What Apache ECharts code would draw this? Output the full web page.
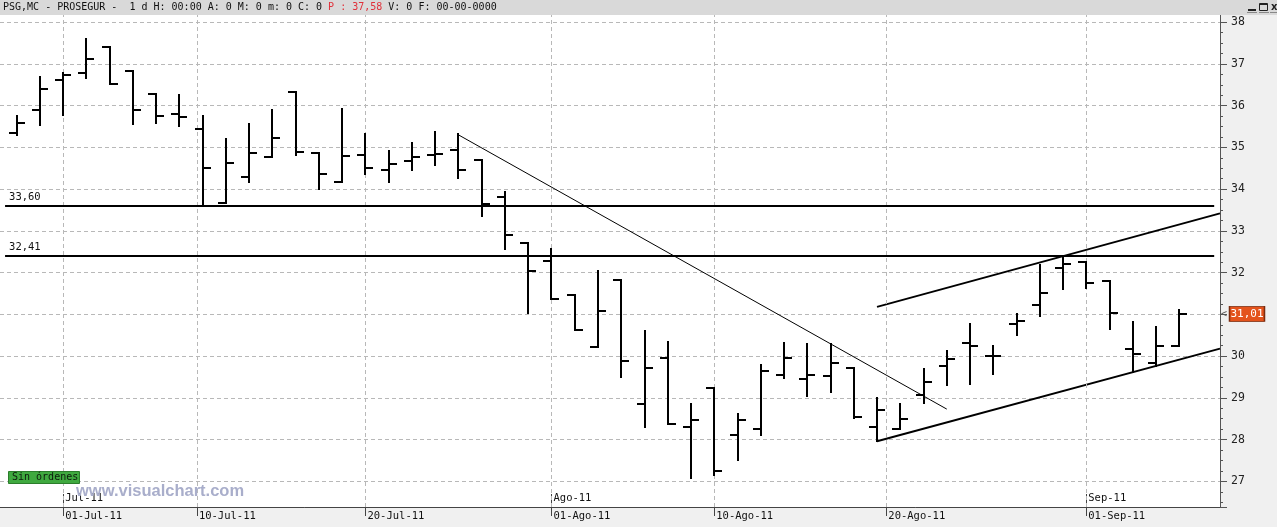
<!DOCTYPE html>
<html><head><meta charset="utf-8">
<script src="https://cdn.jsdelivr.net/npm/echarts@6/dist/echarts.min.js"></script>
<style>html,body{margin:0;padding:0;background:#f0f0f0;overflow:hidden}#c{width:1277px;height:527px}</style>
</head><body><div id="c"></div>
<script>
// ---- data ----
const dates = ['29-Jun-11','30-Jun-11','01-Jul-11','04-Jul-11','05-Jul-11','06-Jul-11','07-Jul-11','08-Jul-11','11-Jul-11','12-Jul-11','13-Jul-11','14-Jul-11','15-Jul-11','18-Jul-11','19-Jul-11','20-Jul-11','21-Jul-11','22-Jul-11','25-Jul-11','26-Jul-11','27-Jul-11','28-Jul-11','29-Jul-11','01-Ago-11','02-Ago-11','03-Ago-11','04-Ago-11','05-Ago-11','08-Ago-11','09-Ago-11','10-Ago-11','11-Ago-11','12-Ago-11','15-Ago-11','16-Ago-11','17-Ago-11','18-Ago-11','19-Ago-11','22-Ago-11','23-Ago-11','24-Ago-11','25-Ago-11','26-Ago-11','29-Ago-11','30-Ago-11','31-Ago-11','01-Sep-11','02-Sep-11','05-Sep-11','06-Sep-11','07-Sep-11'];
const opens  = [35.35,35.90,36.62,36.79,37.40,36.84,36.27,35.81,35.44,33.68,34.30,34.77,36.32,34.86,34.18,34.82,34.46,34.68,34.81,34.94,34.70,33.80,32.72,32.29,31.47,30.22,31.83,28.86,29.96,28.31,29.23,28.12,28.25,29.55,29.46,29.53,29.72,28.29,28.25,29.07,29.77,30.32,30.01,30.77,31.22,32.10,32.26,31.81,30.16,29.83,30.25];
const highs  = [35.75,36.68,36.79,37.60,37.40,36.84,36.27,36.25,35.75,35.19,35.55,35.89,36.32,34.86,35.91,35.31,34.91,35.11,35.36,35.31,34.70,33.92,32.72,32.56,31.47,32.03,31.83,30.60,30.33,28.85,29.23,28.61,29.78,30.31,30.28,30.28,29.72,29.00,28.85,29.68,30.12,30.76,30.24,31.00,32.18,32.40,32.26,31.81,30.81,30.69,31.11];
const lows   = [35.29,35.54,35.78,36.67,36.53,35.57,35.59,35.52,33.60,33.66,34.18,34.77,34.82,34.01,34.18,34.36,34.18,34.45,34.59,34.27,33.36,32.56,31.03,31.37,30.63,30.22,29.49,28.29,28.38,27.09,27.14,27.50,28.10,29.47,29.04,29.15,28.51,27.96,28.25,28.87,29.30,29.33,29.56,30.50,30.95,31.60,31.62,30.64,29.63,29.76,30.25];
const closes = [35.59,36.40,36.74,37.12,36.53,35.90,35.75,35.73,34.51,34.63,34.87,35.23,34.89,34.36,34.79,34.51,34.61,34.77,34.83,34.46,33.64,32.90,32.04,31.37,30.63,31.09,29.89,29.72,28.38,28.47,27.25,28.47,29.64,29.96,29.55,29.84,28.54,28.72,28.50,29.39,29.92,30.25,30.01,30.85,31.50,32.21,31.76,31.04,30.05,30.25,31.01];

// date ticks (bar-index positions) and labels
const dateTickPos    = [2, 7.75, 15, 23, 30, 37.4, 46];
const dateTickLabels = ['01-Jul-11','10-Jul-11','20-Jul-11','01-Ago-11','10-Ago-11','20-Ago-11','01-Sep-11'];
const monthTickPos    = [2, 23, 46];
const monthTickLabels = ['Jul-11','Ago-11','Sep-11'];

// drawn support / trend lines (bar index, price)
const levels      = [33.60, 32.41];
const levelSpan   = [-0.5, 51.5];
const trendDown   = [[19, 35.30], [40, 28.73]];
const channelTop  = [[37, 31.18], [51.75, 33.42]];
const channelBot  = [[37, 27.96], [51.75, 30.18]];
const headerPrice = '37,58';

// ---- chart ----
const X_MIN = -0.718, X_MAX = 51.75;
const Y_MIN = 26.385, Y_MAX = 38.196;
const FONT = 'DejaVu Sans Mono';
const fmt = v => v.toFixed(2).replace('.', ',');

const ohlc = dates.map((d, i) => [i, opens[i], highs[i], lows[i], closes[i]]);
const last = closes.length - 1;

const chart = echarts.init(document.getElementById('c'), null, {renderer: 'canvas'});

function renderBar(params, api) {
  const i = api.value(0);
  const o = api.coord([i, api.value(1)]);
  const h = api.coord([i, api.value(2)]);
  const l = api.coord([i, api.value(3)]);
  const c = api.coord([i, api.value(4)]);
  const x = Math.round(h[0]);
  const st = {stroke: '#000', lineWidth: 2};
  const tk = 8;
  return {type: 'group', children: [
    {type: 'line', shape: {x1: x, y1: Math.round(h[1]) - 1, x2: x, y2: Math.round(l[1]) + 1}, style: st},
    {type: 'line', shape: {x1: x - tk, y1: Math.round(o[1]), x2: x, y2: Math.round(o[1])}, style: st},
    {type: 'line', shape: {x1: x, y1: Math.round(c[1]), x2: x + tk, y2: Math.round(c[1])}, style: st}
  ]};
}

const option = {
  backgroundColor: '#f0f0f0',
  animation: false,
  grid: {left: 0, right: 57, top: 14, bottom: 20, show: true, backgroundColor: '#ffffff', borderWidth: 0},
  xAxis: [{
    type: 'value', min: X_MIN, max: X_MAX, position: 'bottom',
    axisLine: {show: true, onZero: false, lineStyle: {color: '#444', width: 1}},
    axisTick: {show: true, customValues: dateTickPos, length: 9, lineStyle: {color: '#444'}},
    axisLabel: {show: true, customValues: dateTickPos, margin: 4, align: 'left', padding: [0,0,0,2],
      fontFamily: FONT, fontSize: 10.5, color: '#111',
      formatter: v => { const k = dateTickPos.indexOf(v); return k >= 0 ? dateTickLabels[k] : ''; }},
    splitLine: {show: false}
  }, {
    type: 'value', min: X_MIN, max: X_MAX, position: 'bottom',
    axisLine: {show: false, onZero: false},
    axisTick: {show: true, inside: true, customValues: monthTickPos, length: 13, lineStyle: {color: '#444'}},
    axisLabel: {show: true, inside: true, customValues: monthTickPos, margin: 3, align: 'left', padding: [0,0,0,2],
      fontFamily: FONT, fontSize: 10.5, color: '#111',
      formatter: v => { const k = monthTickPos.indexOf(v); return k >= 0 ? monthTickLabels[k] : ''; }},
    splitLine: {show: false}
  }],
  yAxis: {
    type: 'value', position: 'right', min: Y_MIN, max: Y_MAX, splitNumber: 12,
    axisLine: {show: true, onZero: false, lineStyle: {color: '#555', width: 1}},
    axisTick: {show: true, length: 7, lineStyle: {color: '#555'}},
    minorTick: {show: true, splitNumber: 4, length: 3, lineStyle: {color: '#555'}},
    axisLabel: {margin: 11, color: '#222', fontFamily: FONT, fontSize: 11.5,
      showMinLabel: false, showMaxLabel: false,
      formatter: v => Number.isInteger(v) ? String(v) : ''},
    splitLine: {show: true, lineStyle: {type: [4, 3], color: '#b8b8b8', width: 1}}
  },
  series: [
    { // vertical date grid lines
      type: 'line', data: [], z: 1, silent: true,
      markLine: {symbol: 'none', silent: true, animation: false, label: {show: false},
        lineStyle: {type: [4, 3], color: '#b8b8b8', width: 1},
        data: dateTickPos.map(v => ({xAxis: v}))}
    },
    { // level lines
      type: 'line', data: [], z: 3, silent: true,
      markLine: {symbol: 'none', silent: true, animation: false,
        lineStyle: {type: 'solid', color: '#000', width: 2},
        label: {show: true, position: 'insideStartTop', distance: [4, 3], color: '#111', fontFamily: FONT, fontSize: 10.5,
          formatter: p => fmt(p.data.coord ? p.data.coord[1] : p.value)},
        data: levels.map(v => [{coord: [levelSpan[0], v], value: v}, {coord: [levelSpan[1], v]}])}
    },
    {
      type: 'custom', name: 'PSG', renderItem: renderBar, data: ohlc, z: 5,
      encode: {x: 0, y: [1, 2, 3, 4]}, clip: true
    },
    {type: 'line', data: trendDown, showSymbol: false, symbol: 'none', z: 4, lineStyle: {color: '#000', width: 1}},
    {type: 'line', data: channelTop, showSymbol: false, symbol: 'none', z: 4, lineStyle: {color: '#000', width: 2}},
    {type: 'line', data: channelBot, showSymbol: false, symbol: 'none', z: 4, lineStyle: {color: '#000', width: 2}},
    { // last price tag on the axis
      type: 'line', data: [], z: 10,
      markPoint: {silent: true, animation: false,
        data: [
          {coord: [X_MAX, closes[last]], symbol: 'rect', symbolSize: [35, 15], symbolOffset: [27, 0],
            itemStyle: {color: '#e4531c', borderColor: '#7a2c10', borderWidth: 1},
            label: {show: true, position: 'inside', formatter: fmt(closes[last]), color: '#fff', fontFamily: FONT, fontSize: 11}},
          {coord: [X_MAX, closes[last]], symbol: 'rect', symbolSize: 0, symbolOffset: [4, 0],
            label: {show: true, position: 'inside', formatter: '<', color: '#555', fontFamily: FONT, fontSize: 10}}
        ]}
    }
  ],
  graphic: [
    {type: 'rect', z: 100, shape: {x: 0, y: 0, width: 1277, height: 15}, style: {fill: '#d9d9d9'}},
    {type: 'text', z: 101, x: 3, y: 7.5, style: {
      text: '{a|PSG,MC - PROSEGUR -  1 d H: 00:00 A: 0 M: 0 m: 0 C: 0 }{r|P : ' + headerPrice + '}{a| V: 0 F: 00-00-0000}',
      verticalAlign: 'middle',
      rich: {a: {fontFamily: FONT, fontSize: 10, fill: '#111'}, r: {fontFamily: FONT, fontSize: 10, fill: '#e0303a'}}}},
    // window buttons
    {type: 'rect', z: 101, shape: {x: 1248, y: 9, width: 8, height: 2}, style: {fill: '#222'}},
    {type: 'line', z: 101, shape: {x1: 1247, y1: 12.5, x2: 1257, y2: 12.5}, style: {stroke: '#888', lineWidth: 1}},
    {type: 'rect', z: 101, shape: {x: 1259.5, y: 3.5, width: 8, height: 7}, style: {fill: 'none', stroke: '#222', lineWidth: 1}},
    {type: 'line', z: 101, shape: {x1: 1259, y1: 4.5, x2: 1268, y2: 4.5}, style: {stroke: '#222', lineWidth: 1}},
    {type: 'line', z: 101, shape: {x1: 1259, y1: 12.5, x2: 1269, y2: 12.5}, style: {stroke: '#888', lineWidth: 1}},
    {type: 'text', z: 101, x: 1271, y: 7.5, style: {text: 'x', fontFamily: 'DejaVu Sans', fontWeight: 'bold', fontSize: 10, fill: '#222', verticalAlign: 'middle'}},
    {type: 'line', z: 101, shape: {x1: 1270, y1: 12.5, x2: 1277, y2: 12.5}, style: {stroke: '#888', lineWidth: 1}},
    // order status box
    {type: 'rect', z: 50, shape: {x: 8.5, y: 471.5, width: 71, height: 12}, style: {fill: '#3fa93f', stroke: '#2b7d2b', lineWidth: 1}},
    {type: 'text', z: 51, x: 12, y: 477.5, style: {text: 'Sin órdenes', fontFamily: FONT, fontSize: 10, fill: '#0c1c0c', verticalAlign: 'middle'}},
    // watermark
    {type: 'text', z: 50, x: 76, y: 491, style: {text: 'www.visualchart.com', fontFamily: 'Liberation Sans', fontWeight: 'bold', fontSize: 16.5, fill: '#a9aecb', verticalAlign: 'middle'}}
  ]
};
chart.setOption(option);
</script>
</body></html>
